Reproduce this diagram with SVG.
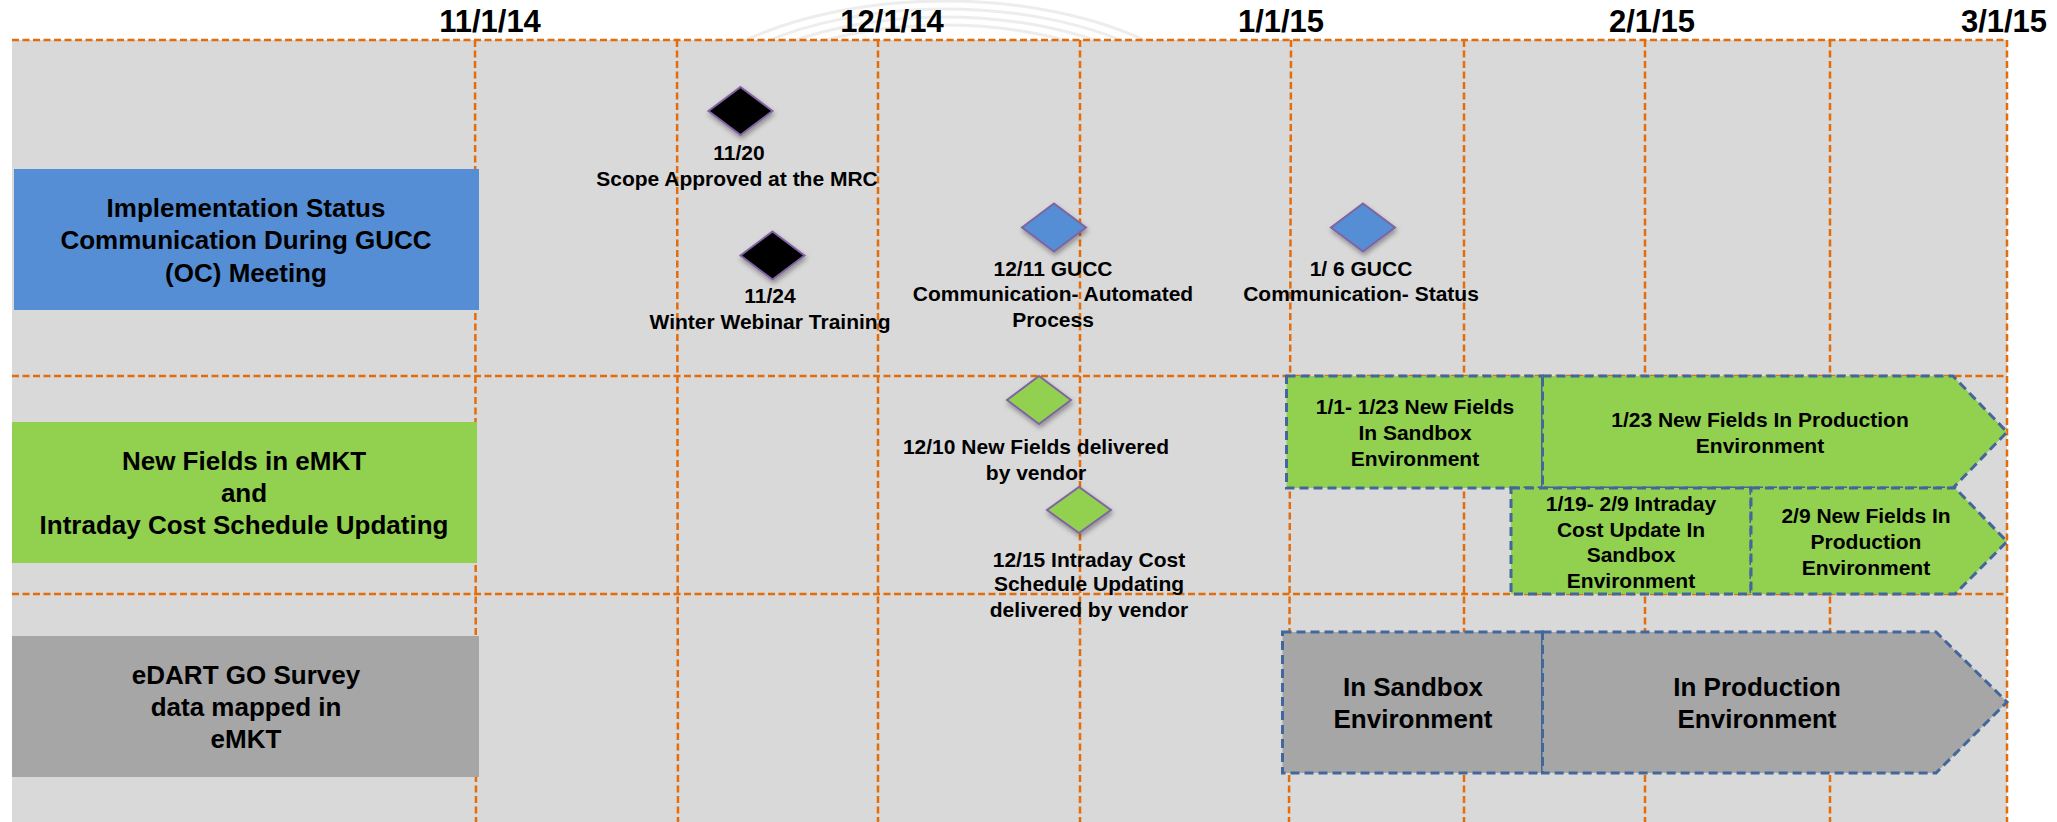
<svg xmlns="http://www.w3.org/2000/svg" width="2057" height="822" viewBox="0 0 2057 822">
<defs>
<style>
.t{font-family:"Liberation Sans",Arial,sans-serif;font-weight:bold;fill:#000;text-anchor:middle}
.date{font-size:31px}
.row{font-size:26px}
.lbl{font-size:21px}
.big{font-size:26px}
.grid line{stroke:#E46C0A;stroke-width:2.5;stroke-dasharray:7 3.5;fill:none}
.bar{stroke:#43679A;stroke-width:3;stroke-dasharray:9 5}
.ms{stroke:#8064A2;stroke-width:2;filter:url(#sh)}
.wm{fill:none;stroke:#EDEDED;stroke-width:3}
</style>
<filter id="sh" x="-30%" y="-30%" width="160%" height="170%"><feDropShadow dx="1" dy="3" stdDeviation="2.5" flood-color="#000" flood-opacity="0.35"/></filter>
</defs>
<rect width="2057" height="822" fill="#fff"/>
<g id="watermark">
<ellipse class="wm" cx="945" cy="150" rx="250" ry="125"/>
<ellipse class="wm" cx="945" cy="150" rx="265" ry="133"/>
<ellipse class="wm" cx="945" cy="150" rx="280" ry="141"/>
<ellipse class="wm" cx="945" cy="150" rx="295" ry="149"/>
</g>
<rect x="12" y="40" width="1995" height="782" fill="#D9D9D9"/>
<g id="grid" class="grid">
<line x1="12" y1="40" x2="2007" y2="40"/>
<line x1="12" y1="376" x2="2007" y2="376"/>
<line x1="12" y1="594" x2="2007" y2="594"/>
<line x1="475" y1="40" x2="476" y2="822"/>
<line x1="677" y1="40" x2="678" y2="822"/>
<line x1="878" y1="40" x2="878" y2="822"/>
<line x1="1080" y1="40" x2="1080" y2="822"/>
<line x1="1291" y1="40" x2="1289" y2="822"/>
<line x1="1464" y1="40" x2="1464" y2="822"/>
<line x1="1645" y1="40" x2="1645" y2="822"/>
<line x1="1830" y1="40" x2="1830" y2="822"/>
<line x1="2007" y1="40" x2="2007" y2="822"/>
</g>
<g id="dates" class="t date">
<text x="490" y="32">11/1/14</text>
<text x="892" y="32">12/1/14</text>
<text x="1281" y="32">1/1/15</text>
<text x="1652" y="32">2/1/15</text>
<text x="2004" y="32">3/1/15</text>
</g>
<g id="row-gucc">
<rect x="14" y="169" width="465" height="141" fill="#558ED5"/>
<text class="t row" x="246" y="217">Implementation Status</text>
<text class="t row" x="246" y="249">Communication During GUCC</text>
<text class="t row" x="246" y="282">(OC) Meeting</text>
</g>
<g id="row-fields">
<rect x="12" y="422" width="465" height="141" fill="#92D050"/>
<text class="t row" x="244" y="470">New Fields in eMKT</text>
<text class="t row" x="244" y="502">and</text>
<text class="t row" x="244" y="534">Intraday Cost Schedule Updating</text>
</g>
<g id="row-edart">
<rect x="12" y="636" width="467" height="141" fill="#A6A6A6"/>
<text class="t row" x="246" y="684">eDART GO Survey</text>
<text class="t row" x="246" y="716">data mapped in</text>
<text class="t row" x="246" y="748">eMKT</text>
</g>
<g id="ms-1120">
<polygon class="ms" points="740.5,87 772.5,111 740.5,135 708.5,111" fill="#000"/>
<text class="t lbl" x="739" y="160">11/20</text>
<text class="t lbl" x="737" y="186">Scope Approved at the MRC</text>
</g>
<g id="ms-1124">
<polygon class="ms" points="772.5,231.5 804.5,255.5 772.5,279.5 740.5,255.5" fill="#000"/>
<text class="t lbl" x="770" y="303">11/24</text>
<text class="t lbl" x="770" y="329">Winter Webinar Training</text>
</g>
<g id="ms-1211">
<polygon class="ms" points="1054,203.5 1086,227.5 1054,251.5 1022,227.5" fill="#558ED5"/>
<text class="t lbl" x="1053" y="276">12/11 GUCC</text>
<text class="t lbl" x="1053" y="301">Communication- Automated</text>
<text class="t lbl" x="1053" y="327">Process</text>
</g>
<g id="ms-0106">
<polygon class="ms" points="1363,203.5 1395,227.5 1363,251.5 1331,227.5" fill="#558ED5"/>
<text class="t lbl" x="1361" y="276">1/ 6 GUCC</text>
<text class="t lbl" x="1361" y="301">Communication- Status</text>
</g>
<g id="ms-1210">
<polygon class="ms" points="1039,376 1071,400 1039,424 1007,400" fill="#92D050"/>
<text class="t lbl" x="1036" y="454">12/10 New Fields delivered</text>
<text class="t lbl" x="1036" y="480">by vendor</text>
</g>
<g id="ms-1215">
<polygon class="ms" points="1079,487 1111,510 1079,533 1047,510" fill="#92D050"/>
<text class="t lbl" x="1089" y="567">12/15 Intraday Cost</text>
<text class="t lbl" x="1089" y="591">Schedule Updating</text>
<text class="t lbl" x="1089" y="617">delivered by vendor</text>
</g>
<g id="bar-fields-sandbox">
<rect class="bar" x="1286.5" y="376" width="256" height="112" fill="#92D050"/>
<text class="t lbl" x="1415" y="414">1/1- 1/23 New Fields</text>
<text class="t lbl" x="1415" y="440">In Sandbox</text>
<text class="t lbl" x="1415" y="466">Environment</text>
</g>
<g id="bar-fields-production">
<polygon class="bar" points="1542.5,376 1953,376 2007,432 1953,488 1542.5,488" fill="#92D050"/>
<text class="t lbl" x="1760" y="427">1/23 New Fields In Production</text>
<text class="t lbl" x="1760" y="453">Environment</text>
</g>
<g id="bar-cost-sandbox">
<rect class="bar" x="1511" y="488" width="240" height="106" fill="#92D050"/>
<text class="t lbl" x="1631" y="511">1/19- 2/9 Intraday</text>
<text class="t lbl" x="1631" y="537">Cost Update In</text>
<text class="t lbl" x="1631" y="562">Sandbox</text>
<text class="t lbl" x="1631" y="588">Environment</text>
</g>
<g id="bar-cost-production">
<polygon class="bar" points="1751,488 1955,488 2007,541.5 1955,594 1751,594" fill="#92D050"/>
<text class="t lbl" x="1866" y="523">2/9 New Fields In</text>
<text class="t lbl" x="1866" y="549">Production</text>
<text class="t lbl" x="1866" y="575">Environment</text>
</g>
<g id="bar-edart-sandbox">
<rect class="bar" x="1282.5" y="632" width="260" height="141" fill="#A6A6A6"/>
<text class="t big" x="1413" y="696">In Sandbox</text>
<text class="t big" x="1413" y="728">Environment</text>
</g>
<g id="bar-edart-production">
<polygon class="bar" points="1542.5,632 1936,632 2007,702 1936,773 1542.5,773" fill="#A6A6A6"/>
<text class="t big" x="1757" y="696">In Production</text>
<text class="t big" x="1757" y="728">Environment</text>
</g>
</svg>
